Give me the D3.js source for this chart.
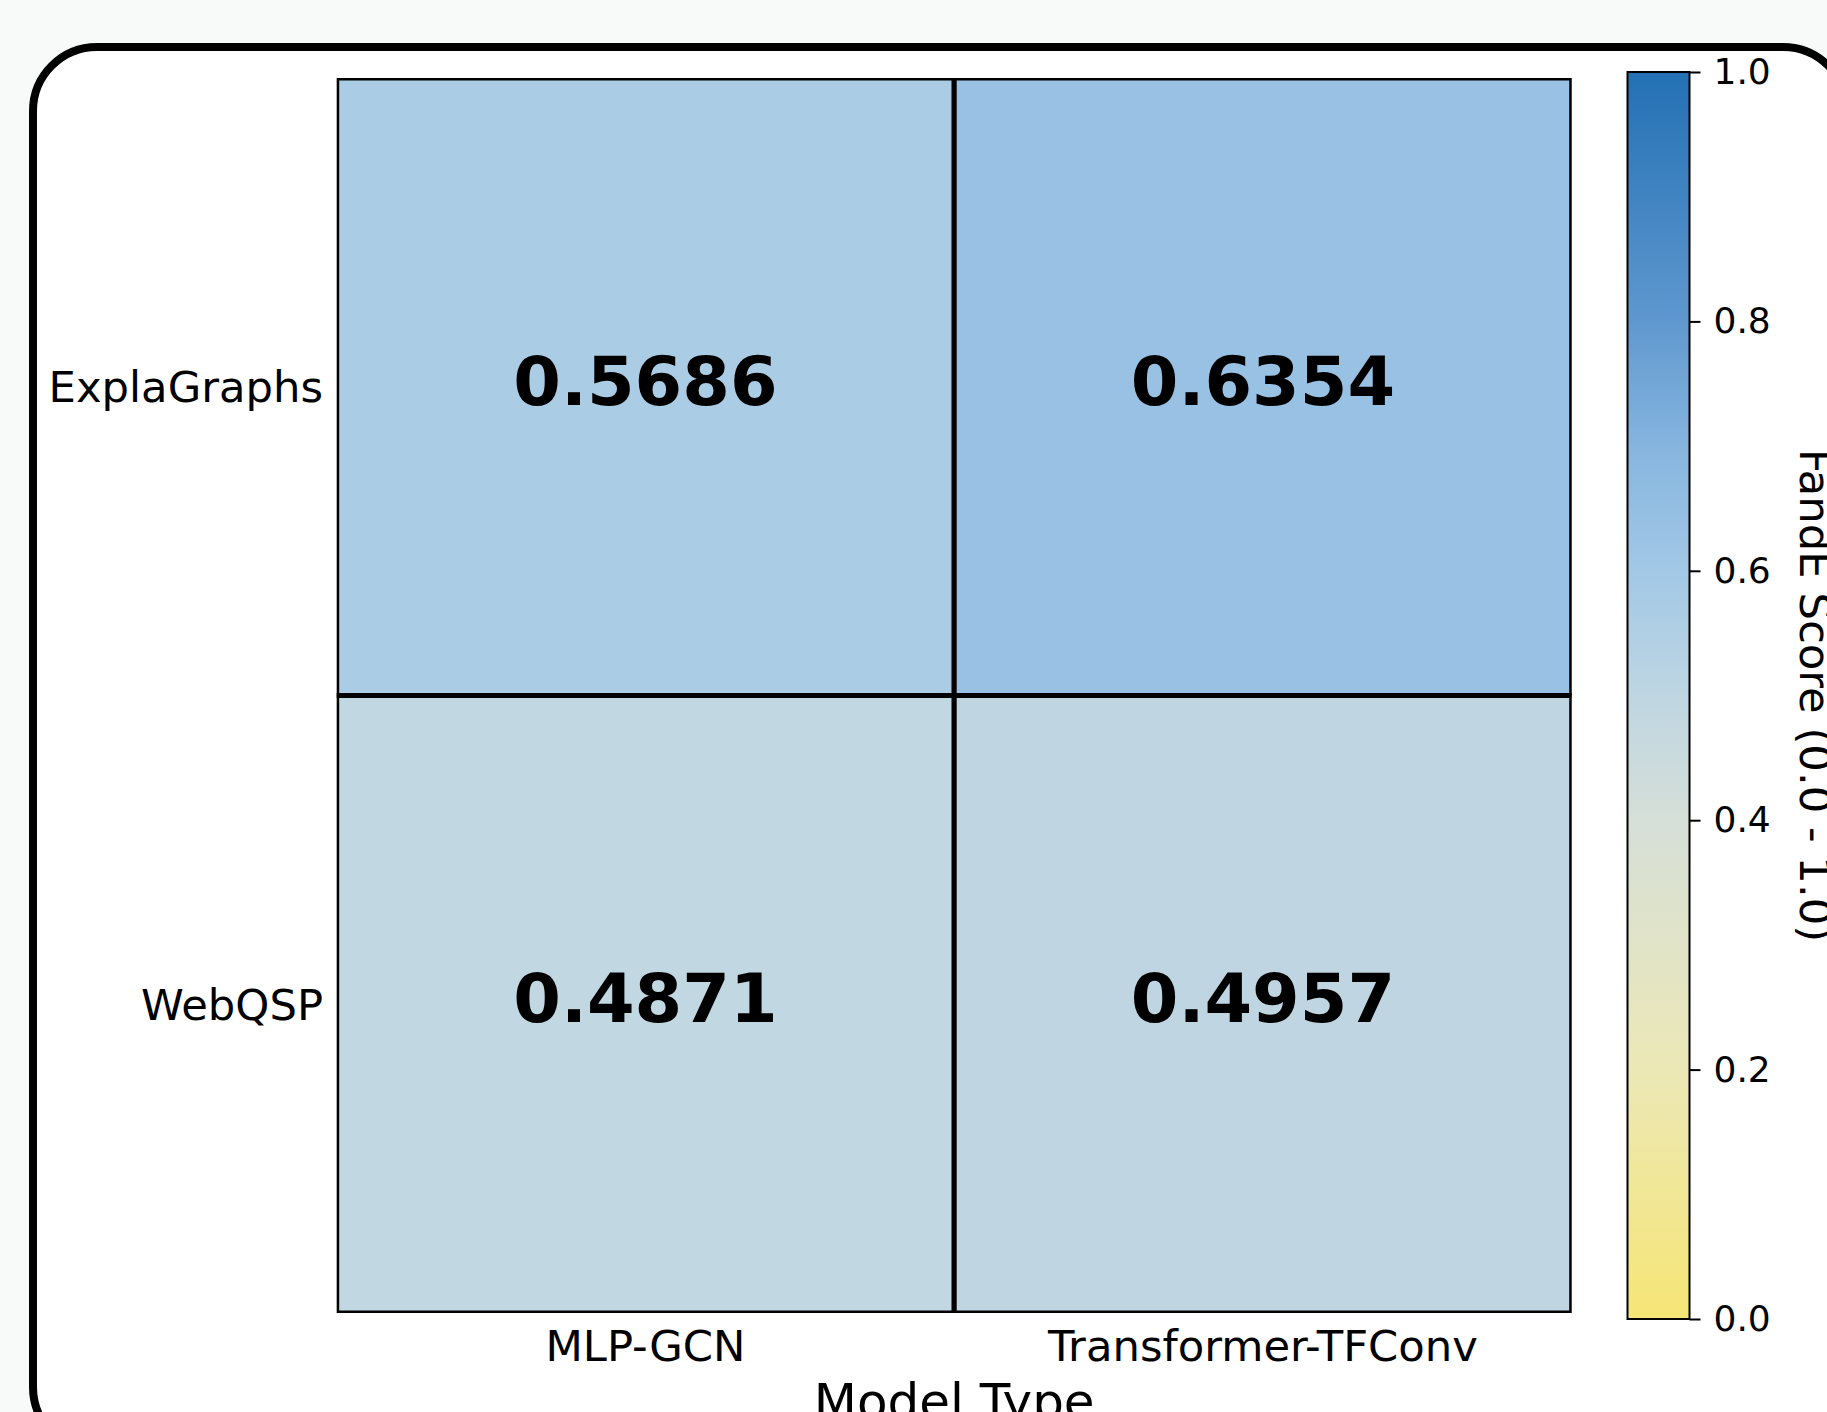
<!DOCTYPE html>
<html>
<head>
<meta charset="utf-8">
<script src="https://cdn.jsdelivr.net/npm/d3@7"></script>
<style>
  html, body { margin: 0; padding: 0; background: #f8f9f9; }
  svg { display: block; }
  text { font-family: "DejaVu Sans", sans-serif; }
</style>
</head>
<body>
<svg id="chart" width="1827" height="1412"></svg>
<script>
// ---- data ----
const rowLabels = ["ExplaGraphs", "WebQSP"];
const colLabels = ["MLP-GCN", "Transformer-TFConv"];
const scoreRows = [
  [0.5686, 0.6354],
  [0.4871, 0.4957]
];
const colorbarTicks = [0.0, 0.2, 0.4, 0.6, 0.8, 1.0];
const xAxisTitle = "Model Type";
const colorbarTitle = "FandE Score (0.0 - 1.0)";

// colormap stops (style)
const cmapStops = [0.0, 0.2, 0.4, 0.5, 0.6, 0.7, 0.8, 1.0];
const cmapColors = ["#f6e576", "#ece8b6", "#d6dfd8", "#bed6e2", "#a2c8e6", "#86b5df", "#5f98cf", "#2370b4"];

const W = 1827, H = 1412;
const svg = d3.select("#chart");

// frame
svg.append("rect").attr("x", 0).attr("y", 0).attr("width", W).attr("height", H).attr("fill", "#f8f9f9");
svg.append("rect")
  .attr("x", 33).attr("y", 47).attr("width", 1814).attr("height", 1404)
  .attr("rx", 64).attr("ry", 64)
  .attr("fill", "#ffffff").attr("stroke", "#000").attr("stroke-width", 8);

const heat = { left: 336.7, top: 78, size: 1235 };
const x = d3.scaleBand().domain(colLabels).range([heat.left, heat.left + heat.size]);
const y = d3.scaleBand().domain(rowLabels).range([heat.top, heat.top + heat.size]);
const color = d3.scaleLinear().domain(cmapStops).range(cmapColors).interpolate(d3.interpolateRgb).clamp(true);

const cells = [];
rowLabels.forEach((r, i) => colLabels.forEach((c, j) => cells.push({ r, c, v: scoreRows[i][j] })));

const defs = svg.append("defs");
defs.append("clipPath").attr("id", "heatClip").append("rect")
  .attr("x", heat.left).attr("y", heat.top).attr("width", heat.size).attr("height", heat.size);

const g = svg.append("g").attr("clip-path", "url(#heatClip)");
g.selectAll("rect.cell").data(cells).join("rect")
  .attr("class", "cell")
  .attr("x", d => x(d.c)).attr("y", d => y(d.r))
  .attr("width", x.bandwidth()).attr("height", y.bandwidth())
  .attr("fill", d => color(d.v))
  .attr("stroke", "#000").attr("stroke-width", 5);

svg.selectAll("text.val").data(cells).join("text")
  .attr("class", "val")
  .attr("x", d => x(d.c) + x.bandwidth() / 2)
  .attr("y", d => y(d.r) + y.bandwidth() / 2 + 18)
  .attr("text-anchor", "middle")
  .attr("font-weight", "bold").attr("font-size", 68.5).attr("fill", "#000")
  .text(d => d.v.toFixed(4));

// x tick labels
svg.selectAll("text.xt").data(colLabels).join("text")
  .attr("class", "xt")
  .attr("x", d => x(d) + x.bandwidth() / 2)
  .attr("y", 1361)
  .attr("text-anchor", "middle").attr("font-size", 43.3).attr("fill", "#000")
  .text(d => d);

// y tick labels
svg.selectAll("text.yt").data(rowLabels).join("text")
  .attr("class", "yt")
  .attr("x", 323)
  .attr("y", d => y(d) + y.bandwidth() / 2 + 15.5)
  .attr("text-anchor", "end").attr("font-size", 43.3).attr("fill", "#000")
  .text(d => d);

// x axis title
svg.append("text")
  .attr("x", heat.left + heat.size / 2).attr("y", 1419)
  .attr("text-anchor", "middle").attr("font-size", 50).attr("fill", "#000")
  .text(xAxisTitle);

// colorbar
const cb = { x: 1627.5, y: 72, w: 62, h: 1247 };
const cbScale = d3.scaleLinear().domain([0, 1]).range([cb.y + cb.h, cb.y]);
const grad = defs.append("linearGradient").attr("id", "cbGrad")
  .attr("x1", 0).attr("y1", 1).attr("x2", 0).attr("y2", 0);
d3.range(0, 1.0001, 0.02).forEach(t => {
  grad.append("stop").attr("offset", t).attr("stop-color", color(t));
});
svg.append("rect").attr("x", cb.x).attr("y", cb.y).attr("width", cb.w).attr("height", cb.h)
  .attr("fill", "url(#cbGrad)").attr("stroke", "#000").attr("stroke-width", 2);

const cbAxis = d3.axisRight(cbScale).tickValues(colorbarTicks).tickFormat(d3.format(".1f"))
  .tickSize(11).tickPadding(13);
const ag = svg.append("g").attr("transform", `translate(${cb.x + cb.w},0)`).call(cbAxis);
ag.select(".domain").remove();
ag.selectAll(".tick line").attr("stroke", "#000").attr("stroke-width", 2);
ag.selectAll(".tick text").attr("font-size", 36).attr("fill", "#000")
  .attr("font-family", "DejaVu Sans");

svg.append("text")
  .attr("transform", `translate(1800, ${cb.y + cb.h / 2}) rotate(90)`)
  .attr("text-anchor", "middle").attr("font-size", 43.3).attr("fill", "#000")
  .text(colorbarTitle);
</script>
</body>
</html>
